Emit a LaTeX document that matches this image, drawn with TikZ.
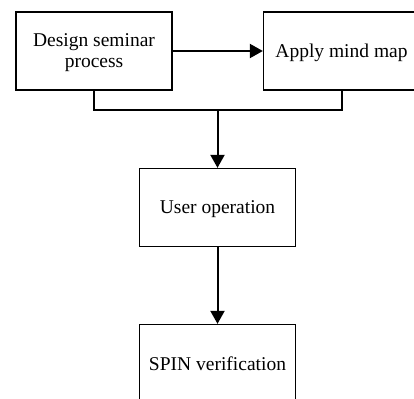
\documentclass[tikz,border=0pt]{standalone}
\usepackage{fontspec}
\setmainfont{Liberation Serif}
\usetikzlibrary{arrows.meta}
\begin{document}
\begin{tikzpicture}[x=1pt,y=-1pt,
  box/.style={draw, line width=1.3pt, minimum width=156pt, minimum height=78pt,
    inner sep=0pt, align=center, font=\fontsize{19.5}{21}\selectfont},
  label/.style={inner sep=0pt, align=center, font=\fontsize{19.5}{21}\selectfont},
  link/.style={line width=2pt},
  arrowlink/.style={link, -{Triangle[length=13pt,width=14pt]}}]
  \useasboundingbox (0,0) rectangle (414,398);
  \clip (0,0) rectangle (414,398);
  \fill[white] (0,0) rectangle (414,398);
  % process boxes
  \node[box] (design) at (94,51) {};
  \node[box] (mind) at (341.5,51) {};
  \node[box] (user) at (217.5,207.5) {};
  \node[box] (spin) at (217.5,363.5) {};
  % box texts, set a little below the box centres
  \node[label] (designtext) at ([yshift=-2pt]design.center) {Design seminar\\process};
  \node[label] (mindtext) at ([yshift=-2pt]mind.center) {Apply mind map};
  \node[label] (usertext) at ([yshift=-2pt]user.center) {User operation};
  \node[label] (spintext) at ([yshift=0pt]spin.center) {SPIN verification};
  % connectors
  \coordinate (join) at (217.5,110);
  \draw[arrowlink] (design) -- (mind);
  \draw[link] (design.south) |- (join) -| (mind.south);
  \draw[arrowlink] (join) -- (user.north);
  \draw[arrowlink] (user) -- (spin);
\end{tikzpicture}
\end{document}
